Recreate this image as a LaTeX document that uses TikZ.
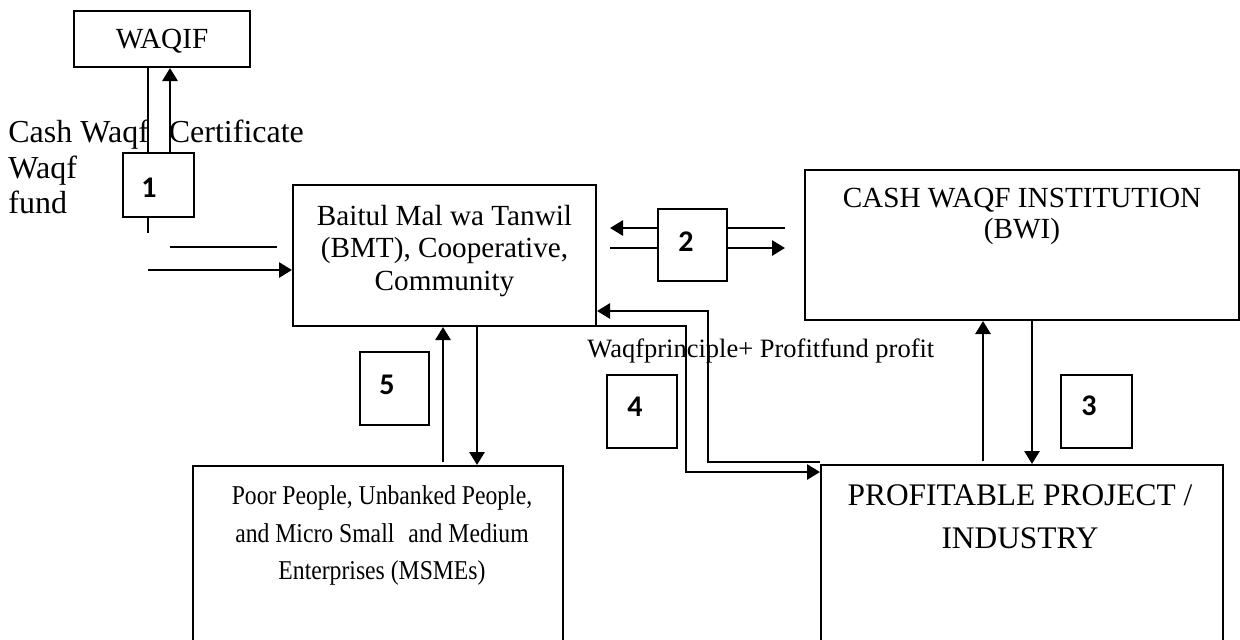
\documentclass[tikz,border=0pt]{standalone}
\usepackage{fontspec}
\setmainfont{Liberation Serif}
\newfontfamily\numfont{Carlito}
\newfontfamily\condfont[FakeStretch=0.87]{Liberation Serif}
\usetikzlibrary{arrows.meta,fit}
\tikzset{
  box/.style={draw, line width=1pt, inner sep=0pt},
  conn/.style={line width=1.4pt},
  arr/.style={conn, -{Triangle[length=6.5pt,width=7.5pt]}},
  tx/.style={inner sep=0pt, anchor=base, font=\fontsize{14.6pt}{17pt}\selectfont},
  txc/.style={inner sep=0pt, anchor=base, font=\condfont\fontsize{13.6pt}{16pt}\selectfont},
  txl/.style={inner sep=0pt, anchor=base west, font=\fontsize{16pt}{18pt}\selectfont},
  txbig/.style={inner sep=0pt, anchor=base, font=\fontsize{15.7pt}{18pt}\selectfont},
  txs/.style={inner sep=0pt, anchor=base west, font=\fontsize{13.25pt}{15pt}\selectfont},
  num/.style={inner sep=0pt, font=\numfont\bfseries\fontsize{15pt}{17pt}\selectfont},
}
\begin{document}
\begin{tikzpicture}[x=0.5pt,y=-0.5pt]
\useasboundingbox (0,0) rectangle (1240,639);
\clip (0,0) rectangle (1240,639);
\fill[white] (0,0) rectangle (1240,639);

% boxes
\node[box, fit={(74,11)(250,67)}] (waqif) {};
\node[box, fit={(123,153)(194,217)}] (b1) {};
\node[box, fit={(293,185)(596,326)}] (bmt) {};
\node[box, fit={(658,209)(727,281)}] (b2) {};
\node[box, fit={(805,170)(1239,320)}] (bwi) {};
\node[box, fit={(360,352)(429,425)}] (b5) {};
\node[box, fit={(607,375)(677,448)}] (b4) {};
\node[box, fit={(1061,375)(1132,448)}] (b3) {};
\node[box, fit={(193,466)(563,700)}] (poor) {};
\node[box, fit={(821,465)(1223,700)}] (prof) {};

% texts
\node[tx] (waqifT) at (162,48) {WAQIF};
\node[txl] (cashT) at (8,142) {Cash Waqf\hspace{10pt}Certificate};
\node[txl] (waqfT) at (8,178) {Waqf};
\node[txl] (fundT) at (8,213) {fund};
\node[tx] (bmtT1) at (444.5,225) {Baitul Mal wa Tanwil};
\node[tx] (bmtT2) at (444.5,257) {(BMT), Cooperative,};
\node[tx] (bmtT3) at (444.5,290) {Community};
\node[tx] (bwiT1) at (1022,207) {CASH WAQF INSTITUTION};
\node[tx] (bwiT2) at (1022,238) {(BWI)};
\node[txbig] (profT1) at (1020,505) {PROFITABLE PROJECT /};
\node[txbig] (profT2) at (1020,548) {INDUSTRY};
\node[txc] (poorT1) at (382,504) {Poor People, Unbanked People,};
\node[txc] (poorT2) at (382,542) {and Micro Small\hspace{7pt}and Medium};
\node[txc] (poorT3) at (382,579) {Enterprises (MSMEs)};
\node[txs] (flowT) at (587,357) {Waqfprinciple+ Profitfund profit};

% numbers
\node[num] (n1) at (149,188) {1};
\node[num] (n2) at (686,242) {2};
\node[num] (n3) at (1089,406) {3};
\node[num] (n4) at (635,407) {4};
\node[num] (n5) at (387,385) {5};

% helper coordinates
\coordinate (c148) at (148,0);
\coordinate (c170) at (170,0);
\coordinate (t1) at (148,233);
\coordinate (h1a) at (170,247);
\coordinate (h1b) at (277,247);
\coordinate (h2a) at (148,270);
\coordinate (l2a) at (610,228);
\coordinate (l2b) at (610,248);
\coordinate (r2a) at (785,228);
\coordinate (r2b) at (785,248);
\coordinate (u3) at (983,461);
\coordinate (c1032) at (1032,0);
\coordinate (u5) at (443,462);
\coordinate (c477) at (477,0);
\coordinate (q1) at (820,462);
\coordinate (q2) at (708,462);
\coordinate (q3) at (708,311);
\coordinate (s1) at (552,326);
\coordinate (s2) at (686,326);
\coordinate (s3) at (686,472);

% connectors 1
\draw[conn] (waqif.south -| c148) -- (b1.north -| c148);
\draw[arr] (b1.north -| c170) -- (waqif.south -| c170);
\draw[conn] (b1.south -| t1) -- (t1);
\draw[conn] (h1a) -- (h1b);
\draw[arr] (h2a) -- (h2a -| bmt.west);

% connectors 2
\draw[arr] (b2.west |- l2a) -- (l2a);
\draw[conn] (l2b) -- (b2.west |- l2b);
\draw[conn] (b2.east |- r2a) -- (r2a);
\draw[arr] (b2.east |- r2b) -- (r2b);

% connectors 3
\draw[arr] (u3) -- (u3 |- bwi.south);
\draw[arr] (bwi.south -| c1032) -- (prof.north -| c1032);

% connectors 5
\draw[arr] (u5) -- (u5 |- bmt.south);
\draw[arr] (bmt.south -| c477) -- (poor.north -| c477);

% connectors 4
\draw[arr] (q1) -- (q2) -- (q3) -- (q3 -| bmt.east);
\draw[arr] (s1) -- (s2) -- (s3) -- (s3 -| prof.west);
\end{tikzpicture}
\end{document}
